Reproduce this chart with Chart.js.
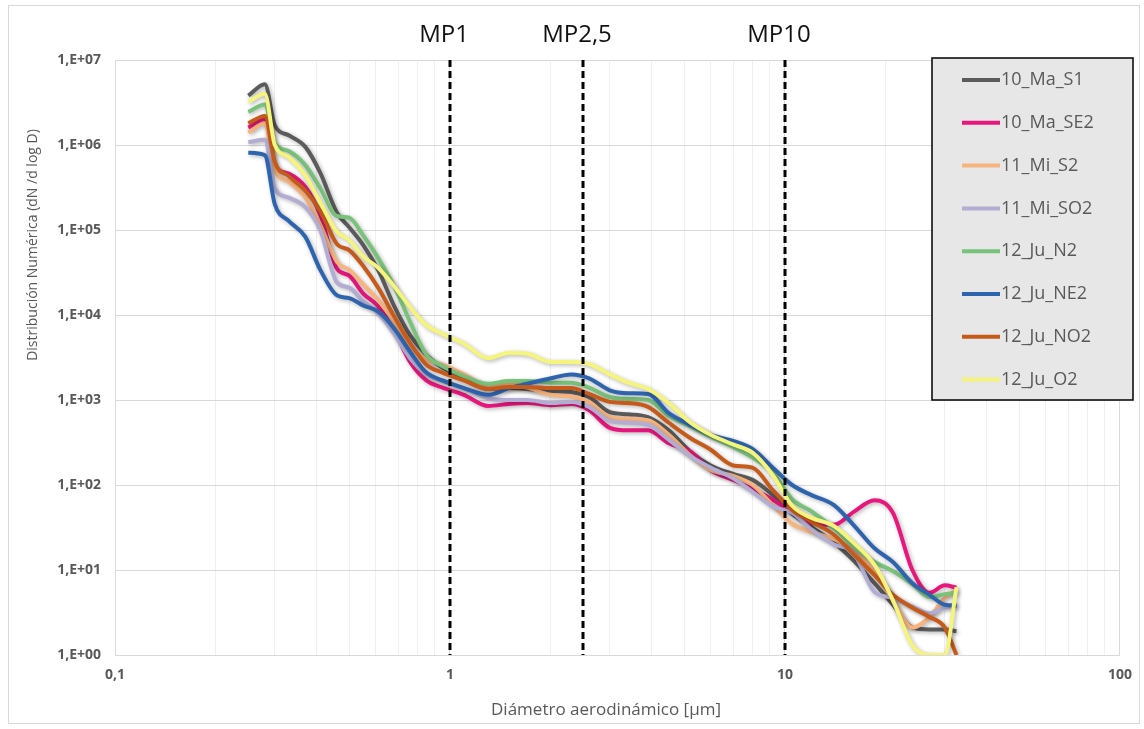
<!DOCTYPE html>
<html lang="es">
<head>
<meta charset="utf-8">
<title>Distribución numérica por tamaño de partícula</title>
<script src="https://cdn.jsdelivr.net/npm/chart.js@4.4.1/dist/chart.umd.min.js"></script>
<style>
    html, body { margin: 0; padding: 0; background: #fff; }
    #grafico-distribucion { display: block; }
</style>
</head>
<body>
<canvas id="grafico-distribucion" width="1144" height="729"></canvas>
<script>
// Diámetros aerodinámicos (µm) de cada canal
const diametros = [0.25, 0.28, 0.30, 0.33, 0.37, 0.41, 0.46, 0.50, 0.55, 0.61,
    0.68, 0.76, 0.85, 0.95, 1.1, 1.3, 1.5, 1.7, 2.0, 2.3,
    2.6, 3.0, 3.4, 3.9, 4.5, 5.2, 6.0, 7.0, 8.0, 9.2,
    10.5, 12, 14, 16, 18.5, 21, 24, 27, 30, 32.5];

// dN/dlogD por campaña
const ma_S1 = [3.8e6, 5.2e6, 1.7e6, 1.3e6, 9.5e5, 4.7e5, 1.6e5, 1.08e5, 6.7e4, 3.4e4,
    1.3e4, 5.8e3, 3.4e3, 2.4e3, 1.8e3, 1.35e3, 1.38e3, 1.35e3, 1.28e3, 1.24e3,
    1.08e3, 720, 680, 630, 440, 250, 170, 135, 115, 76,
    46, 32, 21, 13, 7.0, 3.9, 2.1, 2.0, 2.0, 1.9];
const ma_SE2 = [1.6e6, 2.0e6, 5.8e5, 4.6e5, 3.2e5, 1.5e5, 3.5e4, 2.9e4, 1.8e4, 1.27e4,
    6.7e3, 2.8e3, 1.7e3, 1.4e3, 1.15e3, 850, 900, 920, 870, 900,
    760, 470, 440, 440, 310, 250, 150, 115, 90, 67,
    48, 36, 34, 48, 66, 47, 10, 5.4, 6.6, 6.2];
const mi_S2 = [1.4e6, 1.8e6, 5.1e5, 3.7e5, 2.4e5, 1.15e5, 4.2e4, 3.4e4, 2.3e4, 1.5e4,
    8.5e3, 4.4e3, 3.0e3, 2.6e3, 2.0e3, 1.46e3, 1.55e3, 1.4e3, 1.15e3, 1.1e3,
    950, 630, 600, 580, 390, 225, 150, 128, 100, 58,
    35, 28, 23, 17, 9.5, 4.4, 2.1, 2.8, 4.7, 5.8];
const mi_SO2 = [1.08e6, 1.15e6, 3.1e5, 2.4e5, 1.86e5, 1.0e5, 2.4e4, 2.1e4, 1.46e4, 1.05e4,
    6.1e3, 3.1e3, 2.0e3, 1.67e3, 1.38e3, 1.05e3, 1.0e3, 1.0e3, 920, 950,
    830, 565, 540, 510, 340, 220, 160, 120, 83, 56,
    47, 30, 20, 16, 5.5, 4.7, 3.7, 3.1, 3.6, 3.9];
const ju_N2 = [2.45e6, 3.0e6, 1.05e6, 8.5e5, 5.8e5, 3.1e5, 1.46e5, 1.4e5, 8.7e4, 4.7e4,
    2.2e4, 8.3e3, 3.4e3, 2.5e3, 1.9e3, 1.55e3, 1.67e3, 1.67e3, 1.6e3, 1.6e3,
    1.4e3, 1.08e3, 1.03e3, 1.0e3, 650, 490, 370, 280, 210, 140,
    68, 49, 31, 19, 12.4, 9.7, 6.8, 4.8, 5.2, 5.4];
const ju_NE2 = [8.1e5, 7.6e5, 2.0e5, 1.28e5, 8.3e4, 3.4e4, 1.7e4, 1.58e4, 1.3e4, 1.1e4,
    7.0e3, 3.7e3, 2.1e3, 1.7e3, 1.38e3, 1.15e3, 1.38e3, 1.55e3, 1.8e3, 2.0e3,
    1.8e3, 1.3e3, 1.2e3, 1.18e3, 700, 510, 390, 330, 265, 160,
    100, 76, 58, 34, 18, 12.4, 7.0, 5.1, 3.9, 3.8];
const ju_NO2 = [1.8e6, 2.2e6, 6.3e5, 4.3e5, 2.9e5, 1.67e5, 6.8e4, 5.8e4, 3.8e4, 2.1e4,
    9.8e3, 4.7e3, 2.6e3, 2.1e3, 1.7e3, 1.35e3, 1.42e3, 1.42e3, 1.38e3, 1.38e3,
    1.18e3, 950, 920, 830, 540, 360, 260, 170, 160, 87,
    51, 37, 26, 15.4, 8.7, 5.1, 3.6, 2.8, 2.1, 1.0];
const ju_O2 = [3.2e6, 4.0e6, 1.0e6, 7.2e5, 4.4e5, 2.1e5, 9.5e4, 7.6e4, 4.9e4, 3.6e4,
    2.2e4, 1.24e4, 7.6e3, 6.0e3, 4.6e3, 3.1e3, 3.6e3, 3.5e3, 2.8e3, 2.8e3,
    2.65e3, 2.0e3, 1.6e3, 1.35e3, 920, 550, 390, 300, 240, 130,
    57, 41, 33, 21, 11.5, 4.4, 1.3, 1.0, 1.0, 6.3];

const campanias = ['10_Ma_S1', '10_Ma_SE2', '11_Mi_S2', '11_Mi_SO2', '12_Ju_N2', '12_Ju_NE2', '12_Ju_NO2', '12_Ju_O2'];
const series = [ma_S1, ma_SE2, mi_S2, mi_SO2, ju_N2, ju_NE2, ju_NO2, ju_O2];
const colores = ['#5b5b5b', '#e8177d', '#f8b47f', '#b3acd3', '#79c27a', '#2e64ae', '#c55a1a', '#f5f47c'];

// Ejes
const xEtiquetas = [0.1, 1, 10, 100];
const xTextos = ['0,1', '1', '10', '100'];
const yEtiquetas = [1, 1e1, 1e2, 1e3, 1e4, 1e5, 1e6, 1e7];
const yTextos = ['1,E+00', '1,E+01', '1,E+02', '1,E+03', '1,E+04', '1,E+05', '1,E+06', '1,E+07'];

// Cortes de material particulado
const limitesMP = [1, 2.5, 10];
const nombresMP = ['MP1', 'MP2,5', 'MP10'];

const fuente = '"Open Sans", "Liberation Sans", sans-serif';

function esDecada(v) {
    const l = Math.log10(v);
    return Math.abs(l - Math.round(l)) < 1e-6;
}

// líneas verticales menores 2..9 de cada década
const xGrilla = [];
for (let d = 0; d < xEtiquetas.length - 1; d++) {
    for (let k = 1; k <= 9; k++) xGrilla.push(+(k * xEtiquetas[d]).toPrecision(3));
}
xGrilla.push(xEtiquetas[xEtiquetas.length - 1]);

const datasets = campanias.map((nombre, i) => ({
    label: nombre,
    data: diametros.map((d, j) => ({ x: d, y: series[i][j] })),
    borderColor: colores[i],
    backgroundColor: colores[i],
    borderWidth: 4,
    pointRadius: 0,
    cubicInterpolationMode: 'monotone',
    fill: false,
    order: campanias.length - i   // la última campaña queda encima
}));

// Marco, sombra de las líneas, cortes MP, títulos y leyenda
const decoracion = {
    id: 'decoracion',
    beforeDraw(chart) {
        const ctx = chart.ctx;
        ctx.save();
        ctx.fillStyle = '#fff';
        ctx.fillRect(0, 0, chart.width, chart.height);
        ctx.strokeStyle = '#d9d9d9';
        ctx.lineWidth = 1;
        ctx.strokeRect(8.5, 5.5, 1131, 718);
        ctx.restore();
    },
    beforeDatasetDraw(chart) {
        const ctx = chart.ctx;
        ctx.save();
        ctx.shadowColor = 'rgba(0,0,0,0.30)';
        ctx.shadowBlur = 4;
        ctx.shadowOffsetX = 1.5;
        ctx.shadowOffsetY = 1.5;
    },
    afterDatasetDraw(chart) {
        chart.ctx.restore();
    },
    afterDatasetsDraw(chart) {
        const ctx = chart.ctx;
        const x = chart.scales.x;
        const area = chart.chartArea;
        ctx.save();
        ctx.strokeStyle = '#000';
        ctx.lineWidth = 3;
        ctx.setLineDash([7, 4]);
        limitesMP.forEach((v, i) => {
            const px = Math.round(x.getPixelForValue(v));
            ctx.beginPath();
            ctx.moveTo(px, area.top);
            ctx.lineTo(px, area.bottom);
            ctx.stroke();
            ctx.fillStyle = '#111';
            ctx.font = '24px ' + fuente;
            ctx.textAlign = 'center';
            ctx.textBaseline = 'middle';
            ctx.fillText(nombresMP[i], px - 6, 35);
        });
        ctx.restore();
    },
    afterDraw(chart) {
        const ctx = chart.ctx;
        ctx.save();
        // títulos de ejes
        ctx.fillStyle = '#595959';
        ctx.font = '17px ' + fuente;
        ctx.textAlign = 'center';
        ctx.textBaseline = 'middle';
        ctx.fillText('Diámetro aerodinámico [µm]', 606, 710);
        ctx.font = '14px ' + fuente;
        ctx.translate(33, 245);
        ctx.rotate(-Math.PI / 2);
        ctx.fillText('Distribución Numérica (dN /d log D)', 0, 0);
        ctx.restore();

        // leyenda
        ctx.save();
        ctx.fillStyle = '#e7e7e7';
        ctx.fillRect(932, 58, 201, 342);
        ctx.strokeStyle = '#000';
        ctx.lineWidth = 1.5;
        ctx.strokeRect(932, 58, 201, 342);
        ctx.font = '18px ' + fuente;
        ctx.textBaseline = 'middle';
        ctx.textAlign = 'left';
        chart.data.datasets.forEach((ds, i) => {
            const y = 80 + i * 42.8;
            ctx.strokeStyle = ds.borderColor;
            ctx.lineWidth = 4;
            ctx.beginPath();
            ctx.moveTo(962, y);
            ctx.lineTo(1000, y);
            ctx.stroke();
            ctx.fillStyle = '#595959';
            ctx.fillText(ds.label, 1001, y);
        });
        ctx.restore();
    }
};

const ctx = document.getElementById('grafico-distribucion').getContext('2d');
window.graficoDistribucion = new Chart(ctx, {
    type: 'line',
    data: { datasets: datasets },
    plugins: [decoracion],
    options: {
        responsive: false,
        animation: false,
        layout: { padding: { left: 0, top: 60, right: 24, bottom: 0 } },
        plugins: {
            legend: { display: false },
            tooltip: { enabled: false }
        },
        scales: {
            x: {
                type: 'logarithmic',
                min: 0.1,
                max: 100,
                afterBuildTicks: scale => { scale.ticks = xGrilla.map(v => ({ value: v })); },
                afterFit: scale => { scale.height = 74; },
                ticks: {
                    autoSkip: false,
                    maxRotation: 0,
                    padding: 12,
                    color: '#595959',
                    font: { family: fuente, size: 14, weight: 'bold' },
                    callback: value => {
                        const i = xEtiquetas.findIndex(e => Math.abs(e - value) < 1e-9);
                        return i >= 0 ? xTextos[i] : '';
                    }
                },
                grid: {
                    drawTicks: false,
                    color: c => (c.tick && esDecada(c.tick.value)) ? '#d9d9d9' : '#efefef'
                },
                border: { color: '#d9d9d9' }
            },
            y: {
                type: 'logarithmic',
                min: 1,
                max: 1e7,
                afterBuildTicks: scale => { scale.ticks = yEtiquetas.map(v => ({ value: v })); },
                afterFit: scale => { scale.width = 115; },
                ticks: {
                    padding: 14,
                    color: '#595959',
                    font: { family: fuente, size: 14, weight: 'bold' },
                    callback: (value, index) => yTextos[index]
                },
                grid: { drawTicks: false, color: '#d9d9d9' },
                border: { color: '#d9d9d9' }
            }
        }
    }
});
</script>
</body>
</html>
